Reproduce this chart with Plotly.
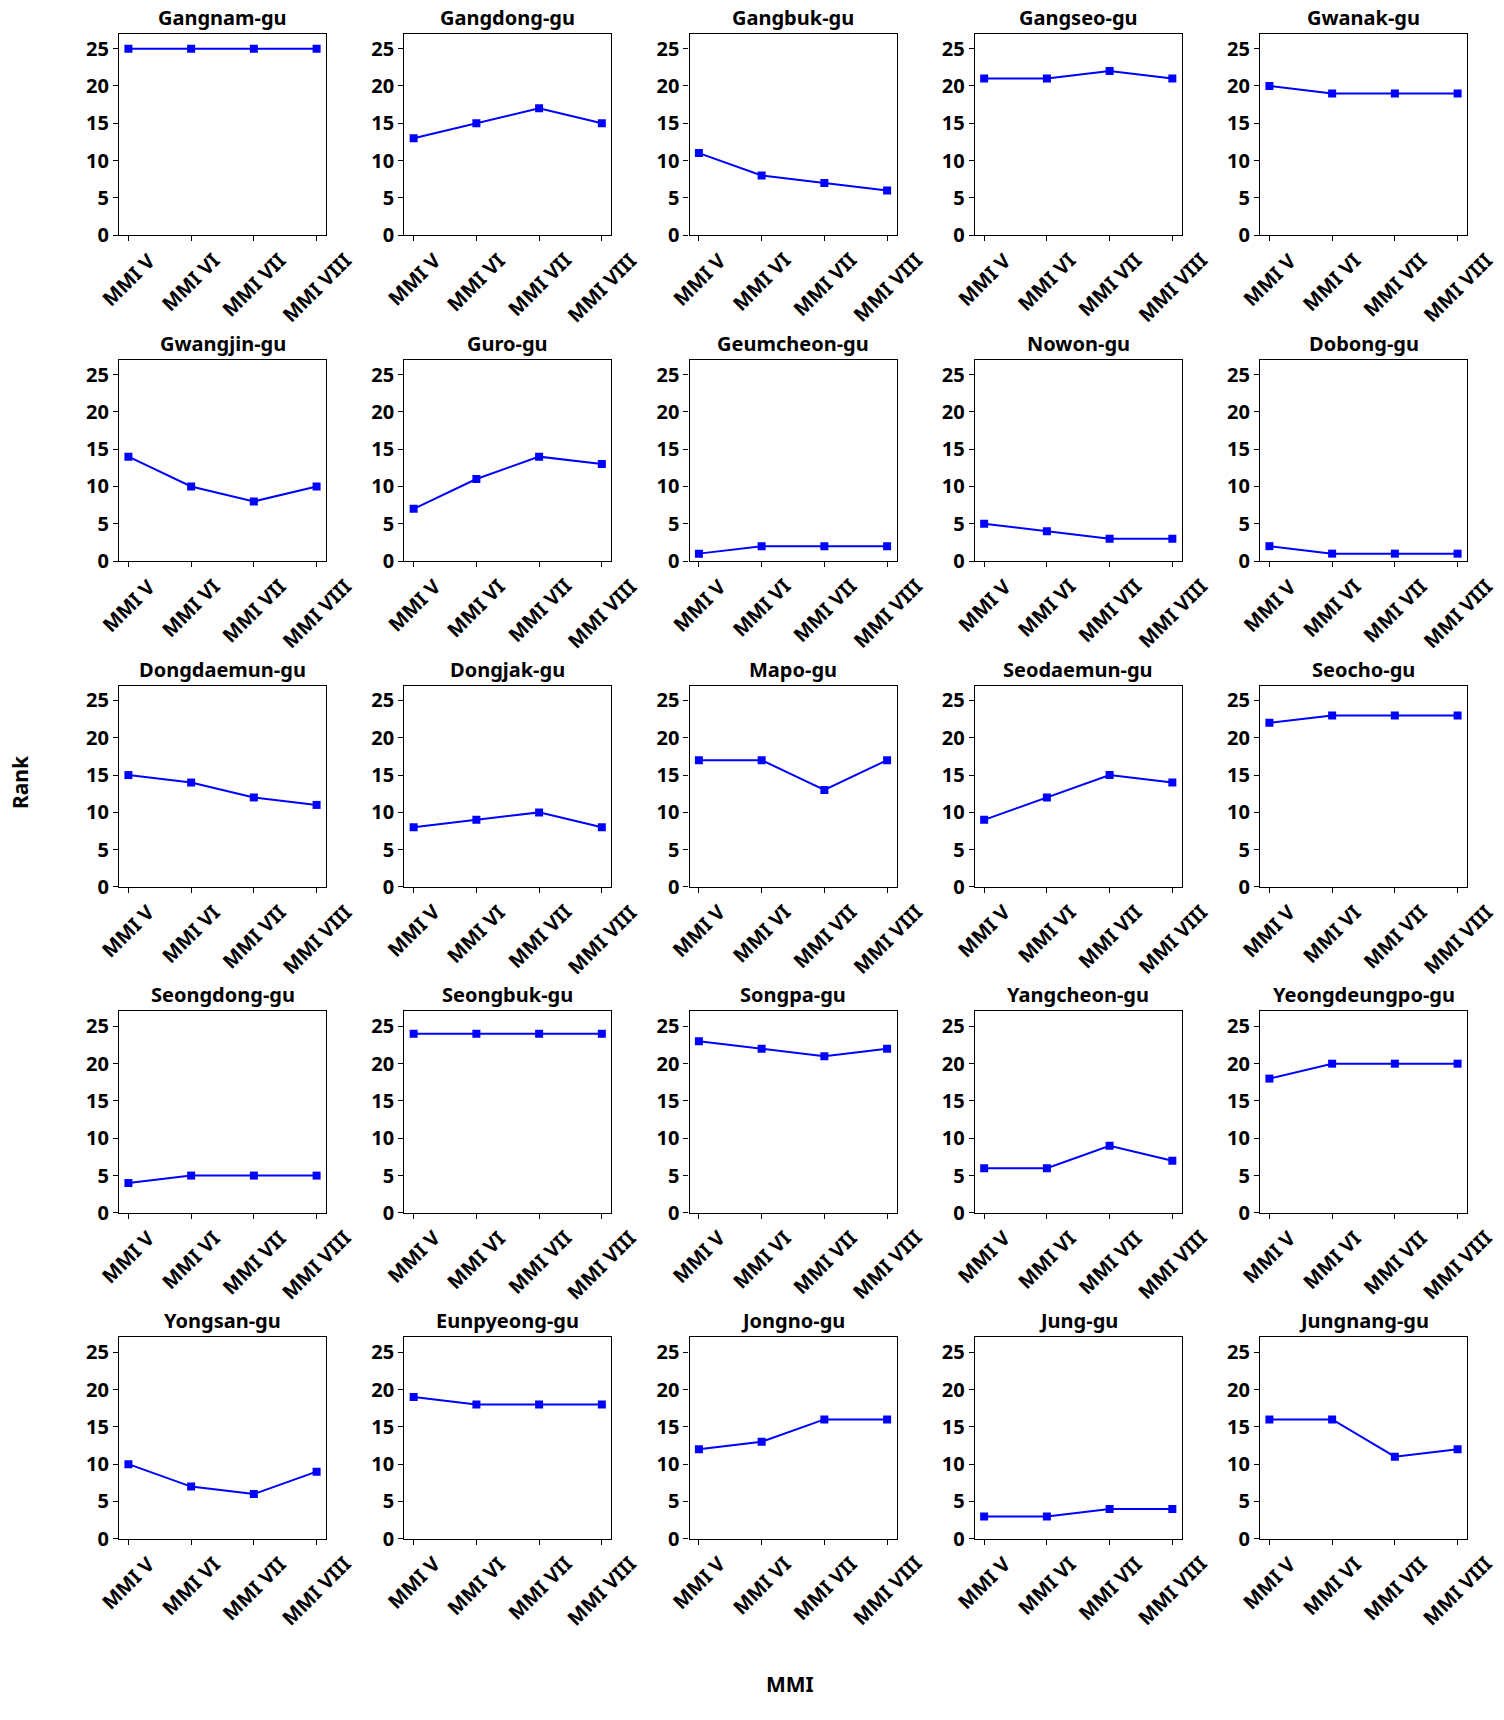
import plotly.graph_objects as go

W, H = 1504, 1708

districts = ["Gangnam-gu", "Gangdong-gu", "Gangbuk-gu", "Gangseo-gu", "Gwanak-gu",
             "Gwangjin-gu", "Guro-gu", "Geumcheon-gu", "Nowon-gu", "Dobong-gu",
             "Dongdaemun-gu", "Dongjak-gu", "Mapo-gu", "Seodaemun-gu", "Seocho-gu",
             "Seongdong-gu", "Seongbuk-gu", "Songpa-gu", "Yangcheon-gu", "Yeongdeungpo-gu",
             "Yongsan-gu", "Eunpyeong-gu", "Jongno-gu", "Jung-gu", "Jungnang-gu"]
mmi_labels = ["MMI V", "MMI VI", "MMI VII", "MMI VIII"]
y_ticks = [0, 5, 10, 15, 20, 25]

gangnam = [25, 25, 25, 25]
gangdong = [13, 15, 17, 15]
gangbuk = [11, 8, 7, 6]
gangseo = [21, 21, 22, 21]
gwanak = [20, 19, 19, 19]
gwangjin = [14, 10, 8, 10]
guro = [7, 11, 14, 13]
geumcheon = [1, 2, 2, 2]
nowon = [5, 4, 3, 3]
dobong = [2, 1, 1, 1]
dongdaemun = [15, 14, 12, 11]
dongjak = [8, 9, 10, 8]
mapo = [17, 17, 13, 17]
seodaemun = [9, 12, 15, 14]
seocho = [22, 23, 23, 23]
seongdong = [4, 5, 5, 5]
seongbuk = [24, 24, 24, 24]
songpa = [23, 22, 21, 22]
yangcheon = [6, 6, 9, 7]
yeongdeungpo = [18, 20, 20, 20]
yongsan = [10, 7, 6, 9]
eunpyeong = [19, 18, 18, 18]
jongno = [12, 13, 16, 16]
jung = [3, 3, 4, 4]
jungnang = [16, 16, 11, 12]

ranks = [gangnam, gangdong, gangbuk, gangseo, gwanak,
         gwangjin, guro, geumcheon, nowon, dobong,
         dongdaemun, dongjak, mapo, seodaemun, seocho,
         seongdong, seongbuk, songpa, yangcheon, yeongdeungpo,
         yongsan, eunpyeong, jongno, jung, jungnang]

FONT = "Noto Sans"
col_left = [119, 404.25, 689.5, 974.75, 1260]
row_top = [34, 362.4, 690.8, 1019.2, 1347.6]
pw, ph = 207, 203

fig = go.Figure()
annotations = []
for k, (name, vals) in enumerate(zip(districts, ranks)):
    r, c = divmod(k, 5)
    n = k + 1
    xa = "x" if n == 1 else f"x{n}"
    ya = "y" if n == 1 else f"y{n}"
    x0 = col_left[c] / W
    x1 = (col_left[c] + pw) / W
    y1 = 1 - row_top[r] / H
    y0 = 1 - (row_top[r] + ph) / H
    fig.add_trace(go.Scatter(
        x=list(range(len(mmi_labels))), y=vals, mode="lines+markers",
        line=dict(color="#0000ff", width=2),
        marker=dict(symbol="square", size=8, color="#0000ff"),
        xaxis=xa, yaxis=ya, showlegend=False))
    axis_common = dict(showline=True, linecolor="black", linewidth=1.2, mirror=True,
                       ticks="outside", ticklen=5, tickwidth=1.2, tickcolor="black",
                       showgrid=False, zeroline=False)
    fig.layout[("xaxis" if n == 1 else f"xaxis{n}")] = dict(
        domain=[x0, x1], anchor=ya, range=[-0.15, 3.15],
        tickvals=list(range(len(mmi_labels))), showticklabels=False, **axis_common)
    fig.layout[("yaxis" if n == 1 else f"yaxis{n}")] = dict(
        domain=[y0, y1], anchor=xa, range=[0, 27], tickvals=y_ticks,
        tickfont=dict(family=FONT, size=20, color="black", weight="bold"),
        **axis_common)
    annotations.append(dict(
        text=f"<b>{name}</b>", x=(x0 + x1) / 2, y=y1 + 1 / H, xref="paper", yref="paper",
        xanchor="center", yanchor="bottom", showarrow=False,
        font=dict(family=FONT, size=20, color="black")))
    for i, lab in enumerate(mmi_labels):
        annotations.append(dict(
            text=f"<b>{lab}</b>", x=i, y=y0 - 9 / H, xref=xa, yref="paper",
            xanchor="center", yanchor="top", textangle=-45, showarrow=False,
            font=dict(family=FONT, size=20, color="black")))

annotations.append(dict(text="<b>MMI</b>", x=790 / W, y=1 - 1697 / H,
                        xref="paper", yref="paper", xanchor="center", yanchor="middle",
                        showarrow=False, font=dict(family=FONT, size=21, color="black")))
annotations.append(dict(text="<b>Rank</b>", x=20 / W, y=1 - 788 / H,
                        xref="paper", yref="paper", xanchor="center", yanchor="middle",
                        textangle=-90, showarrow=False,
                        font=dict(family=FONT, size=21, color="black")))

fig.update_layout(width=W, height=H, margin=dict(l=0, r=0, t=0, b=0),
                  paper_bgcolor="white", plot_bgcolor="white",
                  annotations=annotations, font=dict(family=FONT))
# remove the browser's default 8px page margin so the figure sits at (0, 0)
fig.write_html("out.html", config={"displayModeBar": False},
               post_script="document.body.style.margin='0';")
